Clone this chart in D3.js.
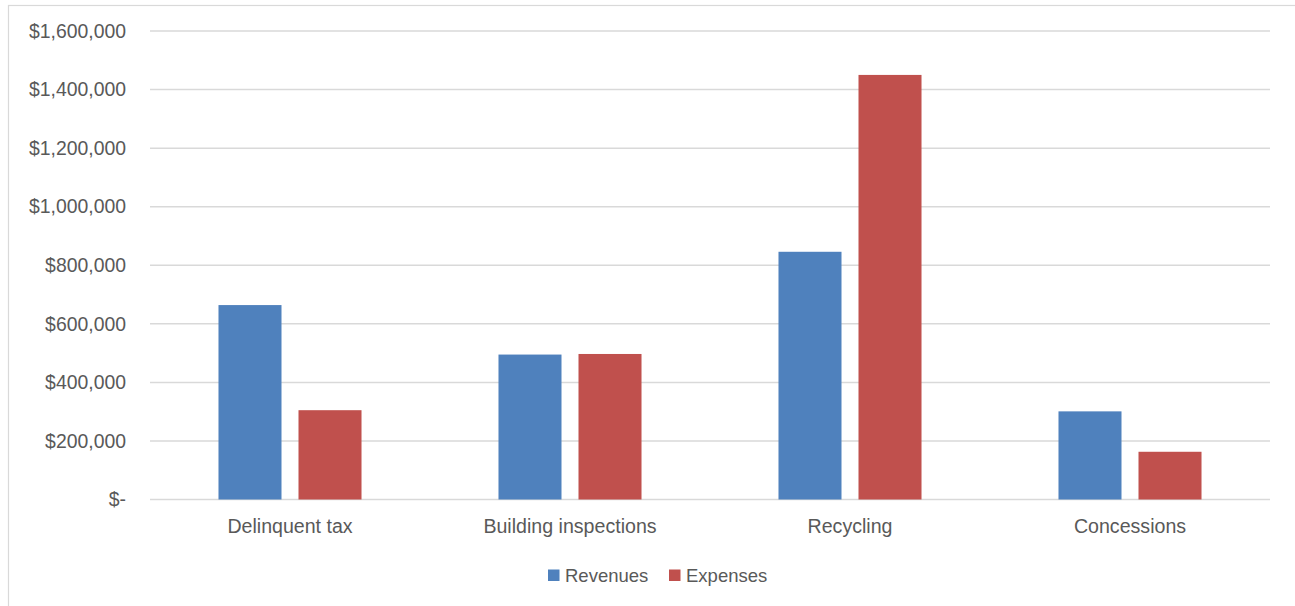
<!DOCTYPE html>
<html><head><meta charset="utf-8">
<script src="https://cdn.jsdelivr.net/npm/d3@7"></script>
<style>
html,body{margin:0;padding:0;background:#fff;}
text{font-family:"Liberation Sans",Arial,sans-serif;fill:#595959;}
</style></head>
<body>
<svg id="chart" width="1295" height="606"></svg>
<script>
const categories = ["Delinquent tax","Building inspections","Recycling","Concessions"];
const seriesNames = ["Revenues","Expenses"];
const revenues = [664000, 495000, 846000, 301000];
const expenses = [305000, 497000, 1450000, 163000];
const yTicks = [0,200000,400000,600000,800000,1000000,1200000,1400000,1600000];
const colors = ["#4F81BD","#C0504D"];

const svg = d3.select("#chart");
svg.append("rect").attr("x",8.5).attr("y",5.5).attr("width",1300).attr("height",620)
  .attr("fill","#fff").attr("stroke","#D9D9D9").attr("stroke-width",1.2);

const m = {left:150, right:1270, top:31, bottom:499.5};
const y = d3.scaleLinear().domain([0,1600000]).range([m.bottom,m.top]);
const x0 = d3.scaleBand().domain(categories).range([m.left,m.right]).padding(0);
const x1 = d3.scaleBand().domain(seriesNames).range([0,x0.bandwidth()]).paddingInner(0.2125).paddingOuter(0.856);

const fmt = v => v===0 ? "$-" : "$" + d3.format(",")(v);

// gridlines
svg.append("g").selectAll("line").data(yTicks).join("line")
  .attr("x1",m.left).attr("x2",m.right)
  .attr("y1",d=>y(d)).attr("y2",d=>y(d))
  .attr("stroke","#D9D9D9").attr("stroke-width",1.5);

// y axis labels
const yAxis = d3.axisLeft(y).tickValues(yTicks).tickFormat(fmt).tickSize(0).tickPadding(0);
const ya = svg.append("g").attr("transform",`translate(126,0)`).call(yAxis);
ya.select(".domain").remove();
ya.selectAll("text").style("font-size","19.4px").style("font-family","'Liberation Sans',Arial,sans-serif").attr("fill","#595959");

// bars
const data = categories.map((c,i)=>({cat:c, vals:[revenues[i],expenses[i]]}));
const g = svg.append("g").selectAll("g").data(data).join("g")
  .attr("transform",d=>`translate(${x0(d.cat)},0)`);
g.selectAll("rect").data(d=>d.vals.map((v,j)=>({s:seriesNames[j],v,j}))).join("rect")
  .attr("x",d=>x1(d.s)).attr("width",x1.bandwidth())
  .attr("y",d=>y(d.v)).attr("height",d=>y(0)-y(d.v))
  .attr("fill",d=>colors[d.j]);

// x axis labels
const xAxis = d3.axisBottom(x0).tickSize(0).tickPadding(0);
const xa = svg.append("g").attr("transform",`translate(0,${m.bottom+20})`).call(xAxis);
xa.select(".domain").remove();
xa.selectAll("text").style("font-size","19.6px").style("font-family","'Liberation Sans',Arial,sans-serif").attr("fill","#595959");

// legend
const legend = svg.append("g");
const lx = [548, 669];
seriesNames.forEach((s,i)=>{
  legend.append("rect").attr("x",lx[i]).attr("y",569.5).attr("width",11.5).attr("height",11.5).attr("fill",colors[i]);
  legend.append("text").attr("x",lx[i]+17).attr("y",575.5).attr("dy","0.35em")
    .style("font-size","18.5px").text(s);
});
</script>
</body></html>
